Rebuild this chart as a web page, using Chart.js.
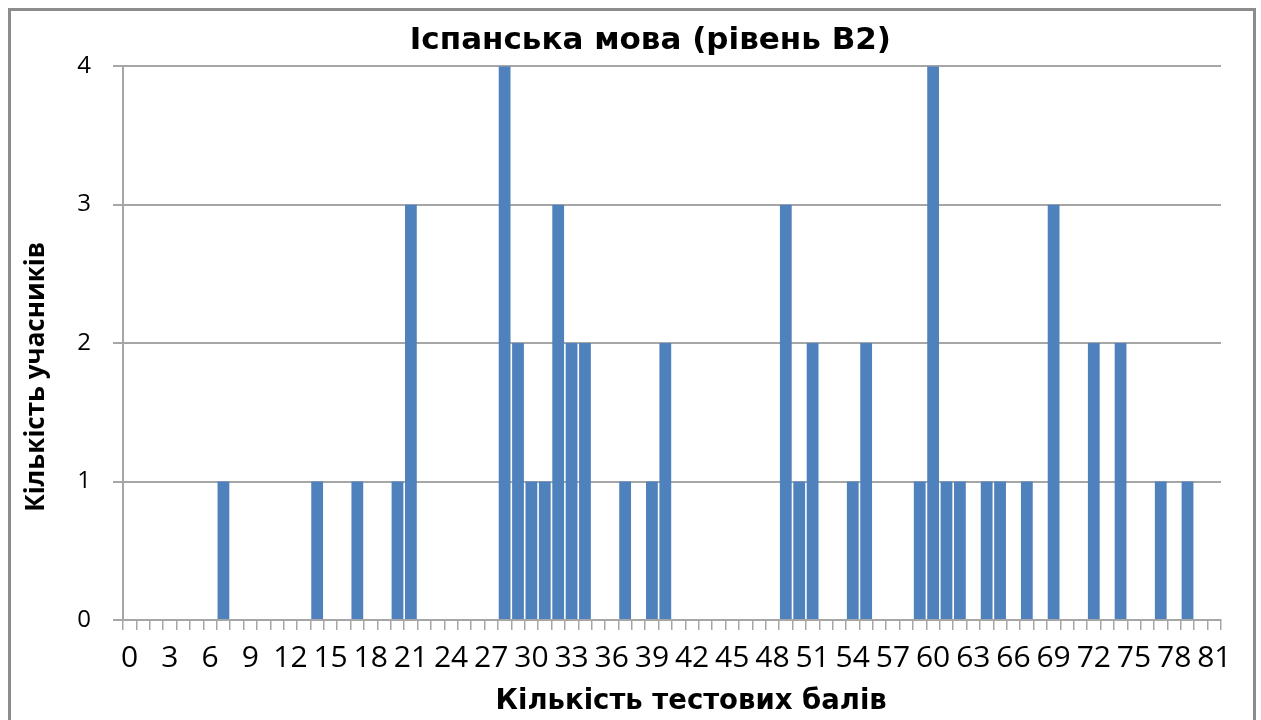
<!DOCTYPE html>
<html>
<head>
<meta charset="utf-8">
<script src="https://cdn.jsdelivr.net/npm/chart.js@4/dist/chart.umd.min.js"></script>
<style>
    body { margin: 0; background: #fff; }
    #frame {
        position: absolute; left: 8px; top: 8px;
        width: 1242px; height: 800px;
        border: 3px solid #8c8c8c;
    }
    #wrap { position: absolute; left: 0; top: 0; width: 1261px; height: 720px; }
</style>
</head>
<body>
<div id="frame"></div>
<div id="wrap"><canvas id="spanishChart" width="1261" height="720"></canvas></div>
<script>
// Test score (x) and number of participants with that score (y)
const scores = [
    0, 1, 2, 3, 4, 5, 6, 7, 8, 9,
    10, 11, 12, 13, 14, 15, 16, 17, 18, 19,
    20, 21, 22, 23, 24, 25, 26, 27, 28, 29,
    30, 31, 32, 33, 34, 35, 36, 37, 38, 39,
    40, 41, 42, 43, 44, 45, 46, 47, 48, 49,
    50, 51, 52, 53, 54, 55, 56, 57, 58, 59,
    60, 61, 62, 63, 64, 65, 66, 67, 68, 69,
    70, 71, 72, 73, 74, 75, 76, 77, 78, 79,
    80, 81
];
const participants = [
    0, 0, 0, 0, 0, 0, 0, 1, 0, 0,
    0, 0, 0, 0, 1, 0, 0, 1, 0, 0,
    1, 3, 0, 0, 0, 0, 0, 0, 4, 2,
    1, 1, 3, 2, 2, 0, 0, 1, 0, 1,
    2, 0, 0, 0, 0, 0, 0, 0, 0, 3,
    1, 2, 0, 0, 1, 2, 0, 0, 0, 1,
    4, 1, 1, 0, 1, 1, 0, 1, 0, 3,
    0, 0, 2, 0, 2, 0, 0, 1, 0, 1,
    0, 0
];
// only every third score gets a label on the x axis
const shownTicks = [0, 3, 6, 9, 12, 15, 18, 21, 24, 27, 30, 33, 36, 39, 42,
    45, 48, 51, 54, 57, 60, 63, 66, 69, 72, 75, 78, 81];
const yTicks = [0, 1, 2, 3, 4];

const FONT = "'Open Sans', sans-serif";
const TITLE_FONT = "'DejaVu Sans', sans-serif";
const GRID = '#a6a6a6';

const ctx = document.getElementById('spanishChart').getContext('2d');
new Chart(ctx, {
    type: 'bar',
    data: {
        labels: scores.map(String),
        datasets: [{
            label: 'Кількість учасників',
            data: participants,
            backgroundColor: '#4f81bd',
            borderWidth: 0,
            barPercentage: 0.88,
            categoryPercentage: 1.0
        }]
    },
    options: {
        responsive: false,
        animation: false,
        layout: { padding: { left: 0, right: 40, top: 0, bottom: 0 } },
        plugins: {
            legend: { display: false },
            tooltip: { enabled: false },
            title: {
                display: true,
                fullSize: false,
                // trailing spaces nudge the text left, like the original
                text: 'Іспанська мова (рівень В2)    ',
                color: '#000',
                font: { family: TITLE_FONT, size: 31, weight: 'bold' },
                padding: { top: 22, bottom: 7 }
            }
        },
        scales: {
            x: {
                grid: {
                    display: true,
                    drawOnChartArea: false,
                    drawTicks: true,
                    tickLength: 10,
                    color: GRID,
                    lineWidth: 1.5
                },
                border: { display: true, color: GRID, width: 2 },
                ticks: {
                    autoSkip: false,
                    maxRotation: 0,
                    minRotation: 0,
                    padding: 10,
                    color: '#000',
                    font: { family: FONT, size: 30 },
                    callback: function (value) {
                        const s = scores[value];
                        return shownTicks.includes(s) ? String(s) : '';
                    }
                },
                title: {
                    display: true,
                    text: '    Кількість тестових балів',
                    color: '#000',
                    font: { family: TITLE_FONT, size: 27.5, weight: 'bold' },
                    padding: { top: 0, bottom: 2 }
                },
                afterFit: function (scale) { scale.height = 100; }
            },
            y: {
                min: 0,
                max: 4,
                afterBuildTicks: function (scale) {
                    scale.ticks = yTicks.map(v => ({ value: v }));
                },
                grid: {
                    color: GRID,
                    lineWidth: 2,
                    tickLength: 10
                },
                border: { display: true, color: GRID, width: 2 },
                ticks: {
                    padding: 22,
                    color: '#000',
                    font: { family: FONT, size: 24 }
                },
                title: {
                    display: true,
                    text: 'Кількість учасників          ',
                    color: '#000',
                    font: { family: FONT, size: 26, weight: 'bold' },
                    padding: { top: 21, bottom: 0 }
                },
                afterFit: function (scale) { scale.width = 123; }
            }
        }
    }
});
</script>
</body>
</html>
